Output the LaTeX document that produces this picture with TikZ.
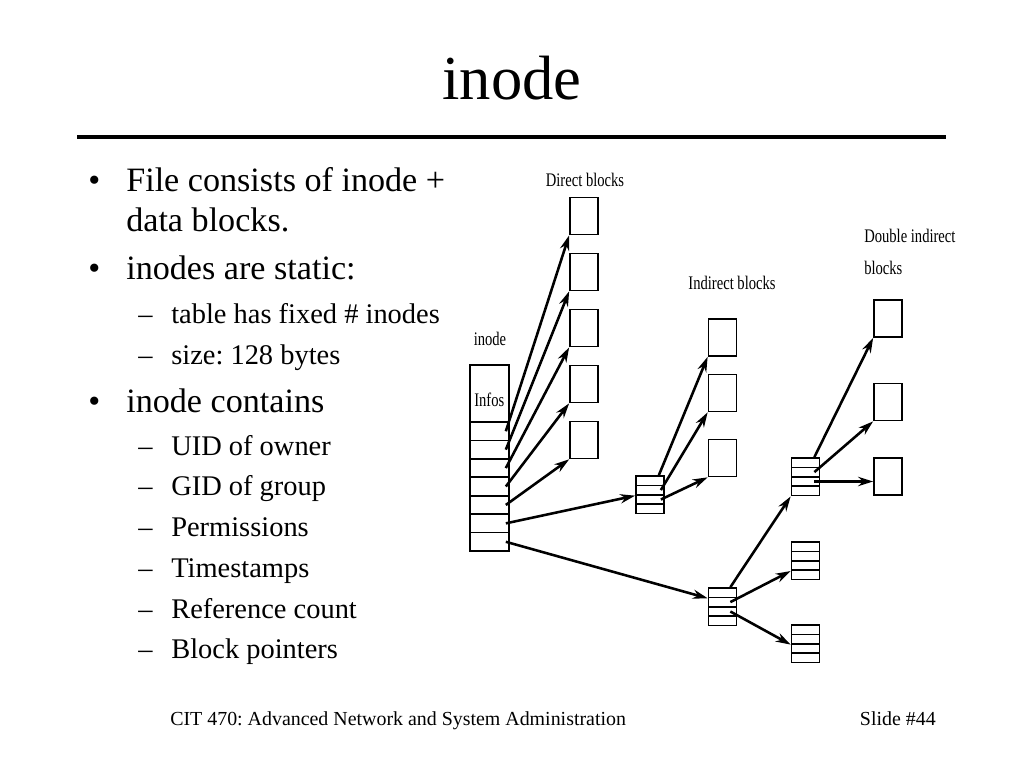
\documentclass[tikz,border=0pt]{standalone}
\usepackage{fontspec}
\setmainfont{Liberation Serif}
\newfontfamily\narrowfont[FakeStretch=0.76]{Liberation Serif}
\usetikzlibrary{arrows.meta,calc,positioning}
\frenchspacing

\tikzset{
  blk/.style={draw, line width=1.2pt, inner sep=0pt, minimum width=19.7pt, minimum height=26pt},
  irow/.style={draw, line width=1.2pt, inner sep=0pt, minimum width=27.4pt, minimum height=12.96pt},
  prow/.style={draw, line width=1.2pt, inner sep=0pt, minimum width=19.7pt, minimum height=6.6pt},
  ptr/.style={-{Stealth[length=10.5pt,width=6.5pt]}, line width=1.8pt},
  lbl/.style={font=\narrowfont\fontsize{13.5}{13.5}\selectfont, inner sep=0pt},
  bul/.style={font=\fontsize{24}{24}\selectfont, anchor=base west, inner sep=0pt},
  sub/.style={font=\fontsize{20}{20}\selectfont, anchor=base west, inner sep=0pt},
}

% four stacked pointer rows: name, x, top y
\newcommand{\ptrblock}[3]{%
  \foreach \r in {1,...,4}
    \node[prow] (#1-\r) at (#2,{#3+9.4*\r-4.7}) {};
}

\begin{document}
\begin{tikzpicture}[x=0.703125pt,y=-0.703125pt]
\useasboundingbox (0,0) rectangle (1024,768);

% title and rule
\node[font=\fontsize{44}{44}\selectfont, anchor=base, inner sep=0pt] (title) at (512,100) {inode};
\draw[line width=3pt] (77,137) -- (946,137);

% bullets
\foreach \y/\n in {192/m1,280/m2,412/m3}
  \node[bul] (dot\n) at (88,\y) {\textbullet};
\node[bul] (m1) at (126,192) {File consists of inode +};
\node[bul] (m1b) at (126,232) {data blocks.};
\node[bul] (m2) at (126,280) {inodes are static:};
\node[bul] (m3) at (126,412) {inode contains};
\foreach \y/\t [count=\k] in {323/table has fixed \# inodes,364/size: 128 bytes,
    455/UID of owner,495/GID of group,536/Permissions,577/Timestamps,
    618/Reference count,658/Block pointers}{
  \node[sub] (dash\k) at (138,\y) {--};
  \node[sub] (s\k) at (171,\y) {\t};
}

% footer
\node[font=\fontsize{14}{14}\selectfont, anchor=base west, inner sep=0pt] (foot) at (170,725)
  {CIT 470: Advanced Network and System Administration};
\node[font=\fontsize{14}{14}\selectfont, anchor=base east, inner sep=0pt] (slide) at (936,725)
  {Slide \#44};

% inode
\node[lbl, anchor=base] (inodelbl) at (490,345) {inode};
\node[irow, minimum height=40.1pt] (infos) at (489.5,393.5) {};
\node[lbl, anchor=base west] (infoslbl) at (474,406) {Infos};
\foreach \i in {1,...,7}
  \node[irow] (p\i) at (489.5,{422+18.43*\i-9.215}) {};

% direct blocks
\node[lbl, anchor=base] (directlbl) at (585,187) {Direct blocks};
\foreach \i in {1,...,5}
  \node[blk] (d\i) at (584,{216+56*(\i-1)}) {};

% indirect blocks
\node[lbl, anchor=base] (indirlbl) at (732,289) {Indirect blocks};
\ptrblock{ib}{650}{476}
\node[blk] (i1) at (722.5,337.5) {};
\node[blk] (i2) at (722.5,393) {};
\node[blk] (i3) at (722.5,458) {};

% double indirect blocks
\node[lbl, anchor=base west] (dbllbl) at (864,243) {Double indirect};
\node[lbl, anchor=base west] (dbllbl2) at (864,275) {blocks};
\ptrblock{db}{722.5}{588}
\ptrblock{s1}{805.5}{458}
\ptrblock{s2}{805.5}{542}
\ptrblock{s3}{805.5}{625}
\node[blk] (e1) at (888,318.5) {};
\node[blk] (e2) at (888,402) {};
\node[blk] (e3) at (888,476.5) {};

% pointers
\foreach \i in {1,...,5}
  \draw[ptr] ($(p\i.east)+(-4,0)$) -- (d\i.south west);
\draw[ptr] ($(p6.east)+(-4,0)$) -- (ib-2.south west);
\draw[ptr] ($(p7.east)+(-4,0)$) -- (db-1.south west);
\draw[ptr] ($(ib-1.north east)+(-6,0)$) -- (i1.south west);
\draw[ptr] ($(ib-2.east)+(-4,0)$) -- (i2.south west);
\draw[ptr] ($(ib-3.east)+(-4,0)$) -- (i3.south west);
\draw[ptr] ($(db-1.north east)+(-7,0)$) -- (s1-4.south west);
\draw[ptr] ($(db-2.east)+(-7,0)$) -- (s2-3.south west);
\draw[ptr] ($(db-3.east)+(-7,0)$) -- (s3-2.south west);
\draw[ptr] ($(s1-1.north east)+(-6,0)$) -- (e1.south west);
\draw[ptr] ($(s1-2.east)+(-6,0)$) -- (e2.south west);
\draw[ptr] ($(s1-3.east)+(-6,0)$) -- (s1-3.east -| e3.west);
\end{tikzpicture}
\end{document}
